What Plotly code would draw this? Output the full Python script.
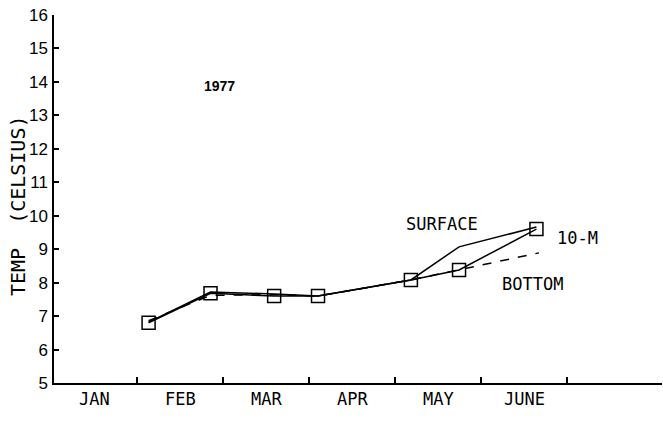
import plotly.graph_objects as go

# x positions in month units (0 = start of January)
dates = [1.13, 1.85, 2.59, 3.10, 4.18, 4.74, 5.64]
surface = [6.82, 7.72, 7.66, 7.60, 8.08, 9.07, 9.66]
ten_m = [6.80, 7.68, 7.60, 7.60, 8.08, 8.38, 9.60]
bottom_dates = [1.13, 1.85, 2.59, 3.10, 4.18, 4.74, 5.67]
bottom = [6.86, 7.62, 7.64, 7.60, 8.08, 8.38, 8.89]

month_labels = ["JAN", "FEB", "MAR", "APR", "MAY", "JUNE"]
month_centers = [0.5, 1.5, 2.5, 3.5, 4.5, 5.5]
month_bounds = [1, 2, 3, 4, 5, 6]
y_ticks = list(range(5, 17))

font_fam = "DejaVu Sans Mono, Liberation Mono, monospace"
num_fam = "Liberation Sans, Arial, sans-serif"

fig = go.Figure()
fig.add_trace(go.Scatter(x=dates, y=surface, mode="lines",
                         line=dict(color="black", width=1.5), name="SURFACE"))
fig.add_trace(go.Scatter(x=bottom_dates, y=bottom, mode="lines",
                         line=dict(color="black", width=1.5, dash="dash"), name="BOTTOM"))
fig.add_trace(go.Scatter(x=dates, y=ten_m, mode="lines+markers",
                         line=dict(color="black", width=1.5),
                         marker=dict(symbol="square-open", size=13, color="black",
                                     line=dict(width=1.5)),
                         name="10-M"))

fig.add_annotation(x=1.96, y=13.88, text="<b>1977</b>", showarrow=False,
                   font=dict(family=num_fam, size=14, color="black"))
fig.add_annotation(x=4.54, y=9.74, text="SURFACE", showarrow=False,
                   font=dict(family=font_fam, size=17, color="black"))
fig.add_annotation(x=6.12, y=9.33, text="10-M", showarrow=False,
                   font=dict(family=font_fam, size=17, color="black"))
fig.add_annotation(x=5.59, y=7.96, text="BOTTOM", showarrow=False,
                   font=dict(family=font_fam, size=17, color="black"))
fig.add_annotation(x=-0.059, y=0.481, xref="paper", yref="paper",
                   text="TEMP&nbsp;&nbsp;(CELSIUS)", xanchor="center", yanchor="middle",
                   textangle=-90, showarrow=False,
                   font=dict(family=font_fam, size=20, color="black"))

fig.update_layout(
    width=663, height=422,
    margin=dict(l=54, r=1, t=15, b=39),
    paper_bgcolor="white", plot_bgcolor="white",
    showlegend=False,
)
fig.update_xaxes(range=[0.03, 7.1], showgrid=False, zeroline=False, automargin=False,
                 showline=True, linecolor="black", linewidth=1.5,
                 tickmode="array", tickvals=month_centers, ticktext=month_labels,
                 ticks="", ticklabelstandoff=0,
                 tickfont=dict(family=font_fam, size=17, color="black"),
                 minor=dict(tickmode="array", tickvals=month_bounds, ticks="inside",
                            ticklen=6, tickcolor="black", tickwidth=1.5, showgrid=False))
fig.update_yaxes(range=[5, 16], showgrid=False, zeroline=False, automargin=False,
                 showline=True, linecolor="black", linewidth=1.5,
                 tickmode="array", tickvals=y_ticks, ticks="inside", ticklen=5,
                 tickcolor="black", tickwidth=1.5, ticklabelstandoff=1,
                 tickfont=dict(family=num_fam, size=17, color="black"))

fig.write_html("out.html", config={"displayModeBar": False},
               post_script="document.body.style.margin='0';document.body.style.overflow='hidden';")
